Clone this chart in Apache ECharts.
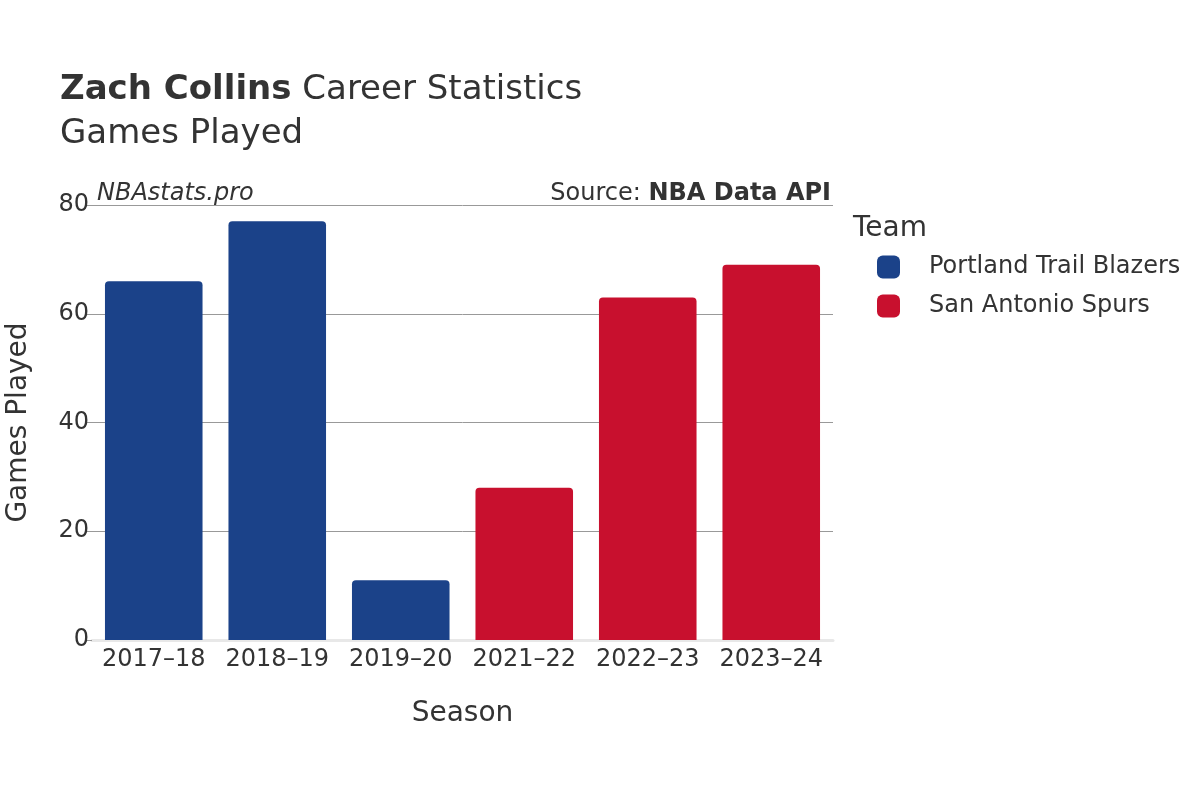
<!DOCTYPE html>
<html><head><meta charset="utf-8">
<script src="https://cdn.jsdelivr.net/npm/echarts@6/dist/echarts.min.js"></script>
<style>html,body{margin:0;padding:0;background:#fff}#c{width:1200px;height:800px}</style>
</head><body><div id="c"></div>
<script>
const seasons = ['2017–18','2018–19','2019–20','2021–22','2022–23','2023–24'];
const portland = [66, 77, 11, null, null, null];
const spurs = [null, null, null, 28, 63, 69];
const yTicks = [0, 20, 40, 60, 80];
const teams = ['Portland Trail Blazers', 'San Antonio Spurs'];
const colors = ['#1b4289', '#c8102e'];

const F = 'DejaVu Sans';
const chart = echarts.init(document.getElementById('c'));
chart.setOption({
  animation: false,
  textStyle: {fontFamily: F},
  title: [{
    left: 55, top: 63,
    text: '{b|Zach Collins}{n|\u00a0Career Statistics}\n{n|Games Played}',
    textStyle: {rich: {
      b: {fontFamily: F, fontWeight: 'bold', fontSize: 34, color: '#333', lineHeight: 44},
      n: {fontFamily: F, fontWeight: 'normal', fontSize: 34, color: '#333', lineHeight: 44}
    }}
  }],
  graphic: [
    {type: 'text', left: 97, top: 182, style: {text: 'NBAstats.pro', font: 'italic 24px "DejaVu Sans"', fill: '#333'}},
    {type: 'text', right: 369, top: 182, style: {
      text: '{n|Source: }{b|NBA Data API}',
      rich: {n: {fontFamily: F, fontSize: 24, fill: '#333'}, b: {fontFamily: F, fontSize: 24, fontWeight: 'bold', fill: '#333'}}
    }},
    {type: 'text', left: 853, top: 215, style: {text: 'Team', font: '28px "DejaVu Sans"', fill: '#333'}}
  ],
  legend: {
    orient: 'vertical', left: 872, top: 250,
    itemWidth: 23, itemHeight: 23, itemGap: 15,
    icon: 'roundRect',
    textStyle: {fontFamily: F, fontSize: 24, color: '#333', padding: [0, 0, 0, 24]},
    data: teams
  },
  grid: {left: 92, right: 367, top: 205, bottom: 160, containLabel: false, outerBoundsMode: 'none'},
  xAxis: {
    type: 'category', data: seasons,
    name: 'Season', nameLocation: 'middle', nameGap: 60,
    nameTextStyle: {fontFamily: F, fontSize: 28, color: '#333'},
    axisLine: {show: true, lineStyle: {color: '#e8e8e8', width: 3}},
    axisTick: {show: false},
    axisLabel: {fontFamily: F, fontSize: 24, color: '#333', margin: 8, interval: 0}
  },
  yAxis: {
    type: 'value', min: 0, max: 80, interval: 20,
    name: 'Games Played', nameLocation: 'middle', nameGap: 59,
    nameTextStyle: {fontFamily: F, fontSize: 28, color: '#333'},
    axisLine: {show: false},
    axisTick: {show: true, length: 6, lineStyle: {color: '#999'}},
    splitLine: {lineStyle: {color: '#999', width: 1}},
    axisLabel: {fontFamily: F, fontSize: 24, color: '#333', margin: 3, padding: [8, 0, 0, 0],
      formatter: v => yTicks.includes(v) ? String(v) : ''}
  },
  series: [
    {name: teams[0], type: 'bar', stack: 'g', data: portland, barWidth: '79%',
     itemStyle: {color: colors[0], borderRadius: [4, 4, 0, 0]}},
    {name: teams[1], type: 'bar', stack: 'g', data: spurs, barWidth: '79%',
     itemStyle: {color: colors[1], borderRadius: [4, 4, 0, 0]}}
  ]
});
</script></body></html>
